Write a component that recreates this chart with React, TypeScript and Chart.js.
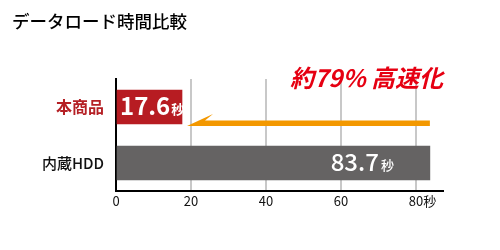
import React, { useEffect, useRef } from "react";
import { Chart, registerables } from "chart.js";

Chart.register(...registerables);

const titleText = "データロード時間比較";
const categories = ["本商品", "内蔵HDD"];
const values = [17.6, 83.7];
const barColors = ["#b71c22", "#656363"];
const labelColors = ["#b52025", "#111111"];
const xTicks = [0, 20, 40, 60, 80];
const xMax = 87.2;
const unit = "秒";
const headline = "約79% 高速化";
const arrowColor = "#f39800";
const headlineColor = "#e60012";

const FONT = "'Noto Sans CJK JP', 'Noto Sans', sans-serif";

const overlayPlugin = {
  id: "overlay",
  afterDatasetsDraw(chart: any) {
    const ctx = chart.ctx;
    const meta = chart.getDatasetMeta(0);
    const xs = chart.scales.x;
    const bars = meta.data;
    ctx.save();

    // arrow from longer bar end towards shorter bar end
    const b0 = bars[0];
    const b1 = bars[1];
    const tipX = xs.getPixelForValue(values[0]) + 5;
    const tailX = xs.getPixelForValue(values[1]);
    const bottom = b0.y + b0.height / 2 + 2;
    const lineTop = bottom - 5.5;
    ctx.fillStyle = arrowColor;
    ctx.beginPath();
    ctx.moveTo(tipX, bottom);
    ctx.lineTo(tipX + 26, bottom - 12);
    ctx.lineTo(tipX + 18, lineTop);
    ctx.lineTo(tailX, lineTop);
    ctx.lineTo(tailX, bottom);
    ctx.closePath();
    ctx.fill();

    // value labels
    ctx.fillStyle = "#ffffff";
    ctx.textBaseline = "alphabetic";
    {
      const txt = values[0].toFixed(1);
      ctx.font = `bold 24px ${FONT}`;
      const x0 = b0.base + 3;
      const y0 = b0.y + 8;
      ctx.textAlign = "left";
      ctx.fillText(txt, x0, y0);
      const w = ctx.measureText(txt).width;
      ctx.font = `bold 13px ${FONT}`;
      ctx.fillText(unit, x0 + w + 1, y0 - 1);
    }
    {
      const txt = values[1].toFixed(1);
      ctx.font = `500 13px ${FONT}`;
      const uw = ctx.measureText(unit).width;
      const right = b1.x - 36;
      const y1 = b1.y + 8;
      ctx.textAlign = "left";
      ctx.fillText(unit, right - uw, y1 - 1);
      ctx.font = `500 24px ${FONT}`;
      ctx.textAlign = "right";
      ctx.fillText(txt, right - uw - 2, y1);
    }

    // headline
    ctx.fillStyle = headlineColor;
    ctx.font = `italic bold 24px ${FONT}`;
    ctx.textAlign = "right";
    ctx.textBaseline = "middle";
    ctx.fillText(headline, 443, chart.chartArea.top - 1);

    // unit after last x tick
    const last = xTicks[xTicks.length - 1];
    ctx.font = `13px ${FONT}`;
    const lw = ctx.measureText(String(last)).width;
    ctx.fillStyle = "#111111";
    ctx.textAlign = "left";
    ctx.textBaseline = "middle";
    ctx.fillText(unit, xs.getPixelForValue(last) + lw / 2, xs.top + 2 + 7.8);

    ctx.restore();
  },
};

export default function App() {
  const ref = useRef<HTMLCanvasElement>(null);
  useEffect(() => {
    if (!ref.current) return;
    const chart = new Chart(ref.current, {
      type: "bar",
      data: {
        labels: categories,
        datasets: [
          {
            data: values,
            backgroundColor: barColors,
            barThickness: 34,
            borderWidth: 0,
          },
        ],
      },
      options: {
        indexAxis: "y",
        animation: false,
        responsive: false,
        maintainAspectRatio: false,
        layout: { padding: { left: 12, right: 57, top: 0, bottom: 0 } },
        plugins: {
          legend: { display: false },
          tooltip: { enabled: false },
          title: {
            display: true,
            text: titleText,
            align: "start",
            color: "#000000",
            font: { family: FONT, size: 17.5, weight: "500" },
            padding: { top: 11, bottom: 47 },
          },
        },
        scales: {
          x: {
            type: "linear",
            min: 0,
            max: xMax,
            afterBuildTicks: (scale: any) => {
              scale.ticks = xTicks.map((v) => ({ value: v }));
            },
            afterFit: (scale: any) => {
              scale.height = 59;
            },
            grid: { color: "#c8c8c8", lineWidth: 2, drawTicks: false },
            border: { display: true, color: "#000000", width: 2 },
            ticks: {
              padding: 2,
              color: "#111111",
              font: { family: FONT, size: 13 },
              maxRotation: 0,
              autoSkip: false,
            },
          },
          y: {
            afterFit: (scale: any) => {
              scale.width = 104;
            },
            grid: { display: false, drawTicks: false },
            border: { display: true, color: "#000000", width: 2 },
            ticks: {
              padding: 12,
              color: (c: any) => labelColors[c.index],
              font: (c: any) =>
                c.index === 0
                  ? { family: FONT, size: 16, weight: "bold" }
                  : { family: FONT, size: 15, weight: "500" },
            },
          },
        },
      },
      plugins: [overlayPlugin],
    });
    return () => chart.destroy();
  }, []);
  return (
    <div style={{ position: "fixed", left: 0, top: 0, width: 500, height: 250, background: "#fff" }}>
      <canvas ref={ref} width={500} height={250} />
    </div>
  );
}
